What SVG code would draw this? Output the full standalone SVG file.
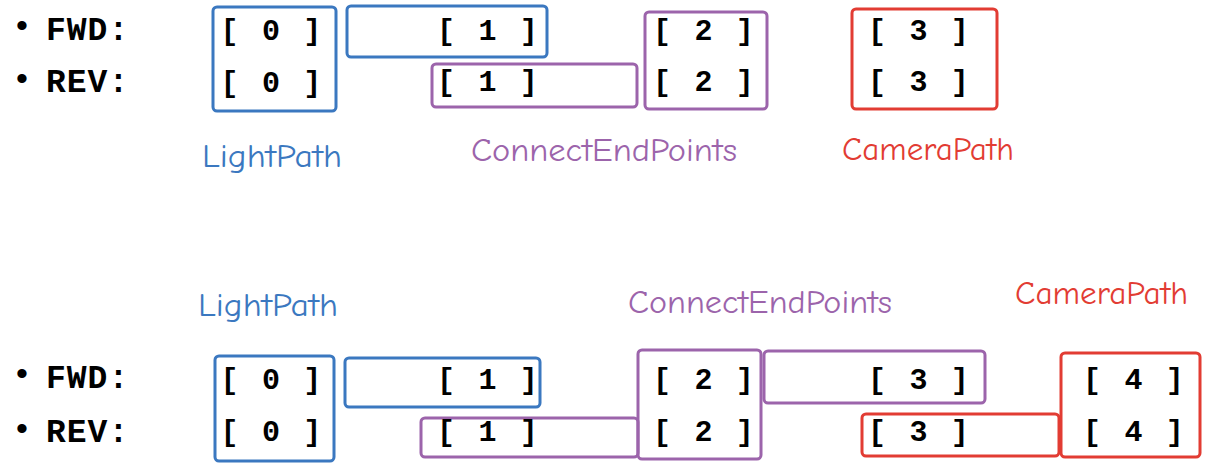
<svg xmlns="http://www.w3.org/2000/svg" width="1214" height="474" viewBox="0 0 1214 474">
<style>
.bg{fill:#ffffff}
.box{fill:none;stroke-width:3}
.blue{stroke:#3b78c0}
.purple{stroke:#9c64ab}
.red{stroke:#e23c33}
.idx{font-family:"Liberation Mono","Courier New",monospace;font-size:30px;font-weight:bold;letter-spacing:2.7px;fill:#000}
.hdr{font-family:"Liberation Mono","Courier New",monospace;font-size:33px;font-weight:bold;letter-spacing:1px;fill:#000}
.bul{font-family:"Liberation Sans",Arial,sans-serif;font-size:34px;fill:#000;text-anchor:middle}
.lbl{font-family:"Comic Sans MS","Comic Neue","Open Sans",sans-serif;font-size:32px}
.lb{fill:#3b78c0}
.lp{fill:#9c64ab}
.lr{fill:#e23c33}
</style>
<rect class="bg" x="0" y="0" width="1214" height="474"/>

<g id="top-headers">
  <text class="bul" x="22" y="37">•</text>
  <text class="hdr" x="46" y="40">FWD:</text>
  <text class="bul" x="22" y="90">•</text>
  <text class="hdr" x="46" y="92">REV:</text>
</g>

<g id="top-light-0">
  <rect class="box blue" x="213" y="7" width="123" height="104" rx="4"/>
  <text class="idx" x="220.5" y="40">[ 0 ]</text>
  <text class="idx" x="220.5" y="92">[ 0 ]</text>
</g>
<g id="top-light-1-fwd">
  <rect class="box blue" x="347" y="6" width="200" height="51" rx="4"/>
  <text class="idx" x="437" y="40">[ 1 ]</text>
</g>
<g id="top-connect-1-rev">
  <rect class="box purple" x="432" y="64" width="205" height="43" rx="4"/>
  <text class="idx" x="437" y="91">[ 1 ]</text>
</g>
<g id="top-connect-2">
  <rect class="box purple" x="645" y="12" width="122" height="97" rx="4"/>
  <text class="idx" x="653" y="40">[ 2 ]</text>
  <text class="idx" x="653" y="91">[ 2 ]</text>
</g>
<g id="top-camera-3">
  <rect class="box red" x="852" y="9" width="145" height="100" rx="4"/>
  <text class="idx" x="868" y="40">[ 3 ]</text>
  <text class="idx" x="868" y="91">[ 3 ]</text>
</g>

<g id="top-labels">
  <text class="lbl lb" x="202" y="167" textLength="140" lengthAdjust="spacingAndGlyphs">LightPath</text>
  <text class="lbl lp" x="471" y="161" textLength="266" lengthAdjust="spacingAndGlyphs">ConnectEndPoints</text>
  <text class="lbl lr" x="842" y="160" textLength="172" lengthAdjust="spacingAndGlyphs">CameraPath</text>
</g>

<g id="bottom-labels">
  <text class="lbl lb" x="198" y="316" textLength="140" lengthAdjust="spacingAndGlyphs">LightPath</text>
  <text class="lbl lp" x="628" y="313" textLength="264" lengthAdjust="spacingAndGlyphs">ConnectEndPoints</text>
  <text class="lbl lr" x="1015" y="304" textLength="173" lengthAdjust="spacingAndGlyphs">CameraPath</text>
</g>

<g id="bottom-headers">
  <text class="bul" x="22" y="385">•</text>
  <text class="hdr" x="46" y="388">FWD:</text>
  <text class="bul" x="22" y="440">•</text>
  <text class="hdr" x="46" y="442">REV:</text>
</g>

<g id="bottom-light-0">
  <rect class="box blue" x="215" y="356" width="119" height="105" rx="4"/>
  <text class="idx" x="220.5" y="389">[ 0 ]</text>
  <text class="idx" x="220.5" y="441">[ 0 ]</text>
</g>
<g id="bottom-light-1-fwd">
  <rect class="box blue" x="345" y="358" width="195" height="49" rx="4"/>
  <text class="idx" x="437" y="389">[ 1 ]</text>
</g>
<g id="bottom-connect-1-rev">
  <rect class="box purple" x="421" y="418" width="217" height="39" rx="4"/>
  <text class="idx" x="437" y="441">[ 1 ]</text>
</g>
<g id="bottom-connect-2">
  <rect class="box purple" x="638" y="350" width="123" height="109" rx="4"/>
  <text class="idx" x="653" y="389">[ 2 ]</text>
  <text class="idx" x="653" y="441">[ 2 ]</text>
</g>
<g id="bottom-connect-3-fwd">
  <rect class="box purple" x="764" y="351" width="221" height="52" rx="4"/>
  <text class="idx" x="868" y="389">[ 3 ]</text>
</g>
<g id="bottom-camera-3-rev">
  <rect class="box red" x="862" y="414" width="197" height="42" rx="4"/>
  <text class="idx" x="868" y="441">[ 3 ]</text>
</g>
<g id="bottom-camera-4">
  <rect class="box red" x="1061" y="353" width="139" height="104" rx="4"/>
  <text class="idx" x="1083" y="389">[ 4 ]</text>
  <text class="idx" x="1083" y="441">[ 4 ]</text>
</g>
</svg>
